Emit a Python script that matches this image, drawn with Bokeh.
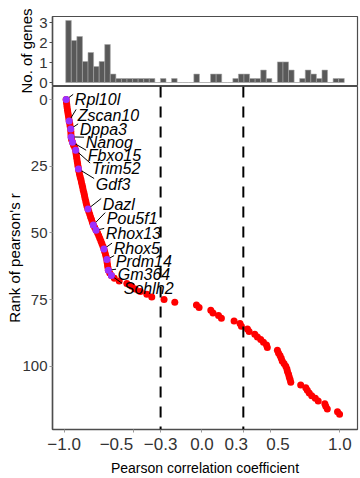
import numpy as np
from bokeh.plotting import figure
from bokeh.layouts import column
from bokeh.models import Range1d, FixedTicker, Span
from bokeh.core.properties import value
from bokeh.embed import file_html
from bokeh.resources import INLINE

# ---------------- data ----------------
pearson_r = [
    -0.985, -0.983, -0.980, -0.978, -0.975, -0.972, -0.969, -0.966, -0.963, -0.959,
    -0.956, -0.952, -0.951, -0.950, -0.949, -0.946, -0.939, -0.932, -0.923, -0.916,
    -0.914, -0.911, -0.908, -0.905, -0.902, -0.899, -0.896, -0.892, -0.888, -0.883,
    -0.878, -0.874, -0.869, -0.865, -0.861, -0.856, -0.852, -0.848, -0.843, -0.839,
    -0.834, -0.827, -0.821, -0.814, -0.808, -0.801, -0.795, -0.788, -0.778, -0.768,
    -0.757, -0.749, -0.741, -0.733, -0.726, -0.718, -0.711, -0.706, -0.700, -0.695,
    -0.690, -0.688, -0.685, -0.682, -0.679, -0.669, -0.657, -0.636, -0.600, -0.545,
    -0.509, -0.484, -0.447, -0.400, -0.364, -0.275, -0.197, -0.040, -0.021, 0.064,
    0.080, 0.120, 0.141, 0.233, 0.276, 0.286, 0.330, 0.342, 0.383, 0.402,
    0.426, 0.446, 0.468, 0.474, 0.547, 0.555, 0.566, 0.575, 0.582, 0.595,
    0.608, 0.616, 0.620, 0.628, 0.633, 0.639, 0.644, 0.716, 0.753, 0.764,
    0.778, 0.796, 0.822, 0.843, 0.891, 0.898, 0.909, 0.983, 0.998,
]
gene_rank = list(range(len(pearson_r)))

highlight_genes = ["Rpl10l", "Zscan10", "Dppa3", "Nanog", "Fbxo15", "Trim52", "Gdf3",
                   "Dazl", "Pou5f1", "Rhox13", "Rhox5", "Prdm14", "Gm364", "Sohlh2"]
highlight_rank = [0, 8, 11, 14, 16, 19, 26, 41, 47, 49, 56, 60, 64, 66]

hist_height = [3.1, 2.1, 2.3, 1.05, 1.5, 0.8, 1.05, 1.9, 0.42, 0.2,
               0.2, 0.2, 0.2, 0.2, 0.2, 0.2, 0.0, 0.2, 0.0, 0.2,
               0.0, 0.0, 0.0, 0.42, 0.0, 0.0, 0.42, 0.42, 0.0, 0.0,
               0.2, 0.42, 0.42, 0.2, 0.2, 0.62, 0.2, 0.0, 1.03, 1.03,
               0.62, 0.0, 0.2, 0.62, 0.42, 0.2, 0.62, 0.0, 0.2, 0.2]
hist_start = -0.988
hist_bin_width = 0.0404

x_ticks = [-1.0, -0.5, -0.3, 0.0, 0.3, 0.5, 1.0]
x_tick_labels = ["\u22121.0", "\u22120.5\u2007\u2007\u2007\u00a0", "\u22120.3", "0.0",
                 "0.3\u2007\u00a0", "\u2007\u00a00.5", "1.0"]
y_ticks = [0, 25, 50, 75, 100]
hist_y_ticks = [0, 1, 2, 3]
cutoffs = [-0.3, 0.3]

label_r = [-0.922, -0.901, -0.886, -0.843, -0.828, -0.799, -0.770,
           -0.719, -0.690, -0.697, -0.640, -0.625, -0.611, -0.567]
label_rank = [0.15, 5.8, 11.2, 16.2, 21.1, 25.9, 31.7,
              39.2, 44.5, 50.4, 55.9, 60.6, 65.7, 71.0]

FONT = "Liberation Sans"
AX = "#4d4d4d"
TICKC = "#333333"
X_RANGE = (-1.084, 1.128)

edges = hist_start + hist_bin_width * np.arange(len(hist_height) + 1)
p1 = figure(width=360, height=93, x_range=Range1d(*X_RANGE), y_range=Range1d(-0.15, 3.3),
            output_backend="svg", toolbar_location=None,
            min_border_left=52, min_border_right=3, min_border_top=16, min_border_bottom=8)
p1.quad(left=edges[:-1], right=edges[1:], bottom=0, top=hist_height,
        fill_color="#595959", line_color="#a6a6a6", line_width=0.6)
p1.xaxis.visible = False
p1.grid.visible = False
p1.outline_line_color = AX
p1.outline_line_width = 1.2
yax1 = p1.yaxis[0]
yax1.ticker = FixedTicker(ticks=hist_y_ticks)
yax1.axis_label = "No. of genes"
yax1.axis_label_text_font = FONT
yax1.axis_label_text_font_style = "normal"
yax1.axis_label_text_font_size = "15px"
yax1.axis_label_text_color = "black"
yax1.axis_label_standoff = 1
yax1.major_label_text_font = FONT
yax1.major_label_text_font_size = "15px"
yax1.major_label_text_color = TICKC
yax1.major_label_standoff = 2
yax1.major_tick_out = 3
yax1.major_tick_in = 0
yax1.minor_tick_out = 0
yax1.minor_tick_in = 0
yax1.axis_line_color = AX
yax1.axis_line_width = 1.5
yax1.major_tick_line_color = AX

p2 = figure(width=360, height=393, x_range=Range1d(*X_RANGE), y_range=Range1d(123.7, -4.9),
            output_backend="svg", toolbar_location=None,
            min_border_left=52, min_border_right=3, min_border_top=1, min_border_bottom=43,
            margin=(-8, 0, 0, 0))
p2.border_fill_alpha = 0
p2.grid.visible = False
p2.outline_line_color = AX
p2.outline_line_width = 1.2

for c in cutoffs:
    p2.add_layout(Span(location=c, dimension="height", line_color="black",
                       line_width=2, line_dash="11 9"))

p2.scatter(x=pearson_r, y=gene_rank, size=7, color="#ff0000", line_color=None)

hx = [pearson_r[i] for i in highlight_rank]
hy = [gene_rank[i] for i in highlight_rank]
lx = [v - 0.012 for v in label_r]
ly = [v - 2.1 for v in label_rank]
p2.segment(x0=hx, y0=hy, x1=lx, y1=ly, line_color="black", line_width=1)
p2.scatter(x=hx, y=hy, size=7, color="#9b30ff", line_color=None)
p2.text(x=label_r, y=label_rank, text=highlight_genes,
        text_font=value(FONT), text_font_style="italic", text_font_size="16px",
        text_baseline="alphabetic", text_align="left", text_color="black")

xax = p2.xaxis[0]
xax.ticker = FixedTicker(ticks=x_ticks)
xax.major_label_overrides = dict(zip(x_ticks, x_tick_labels))
xax.axis_label = "Pearson correlation coefficient"
xax.axis_label_text_font = FONT
xax.axis_label_text_font_style = "normal"
xax.axis_label_text_font_size = "14px"
xax.axis_label_text_color = "black"
xax.axis_label_standoff = 3
xax.major_label_text_font = FONT
xax.major_label_text_font_size = "17px"
xax.major_label_text_color = TICKC
xax.major_label_standoff = 2
xax.major_tick_out = 3
xax.major_tick_in = 0
xax.minor_tick_out = 0
xax.minor_tick_in = 0
xax.axis_line_color = AX
xax.axis_line_width = 1.5
xax.major_tick_line_color = "#999999"

yax = p2.yaxis[0]
yax.ticker = FixedTicker(ticks=y_ticks)
yax.axis_label = "Rank of pearson's r"
yax.axis_label_text_font = FONT
yax.axis_label_text_font_style = "normal"
yax.axis_label_text_font_size = "15px"
yax.axis_label_text_color = "black"
yax.axis_label_standoff = -4
yax.major_label_text_font = FONT
yax.major_label_text_font_size = "15px"
yax.major_label_text_color = TICKC
yax.major_label_standoff = 2
yax.major_tick_out = 3
yax.major_tick_in = 0
yax.minor_tick_out = 0
yax.minor_tick_in = 0
yax.axis_line_color = AX
yax.axis_line_width = 1.5
yax.major_tick_line_color = "#999999"

layout = column(p1, p2)
open("out.html", "w").write(file_html(layout, INLINE))
